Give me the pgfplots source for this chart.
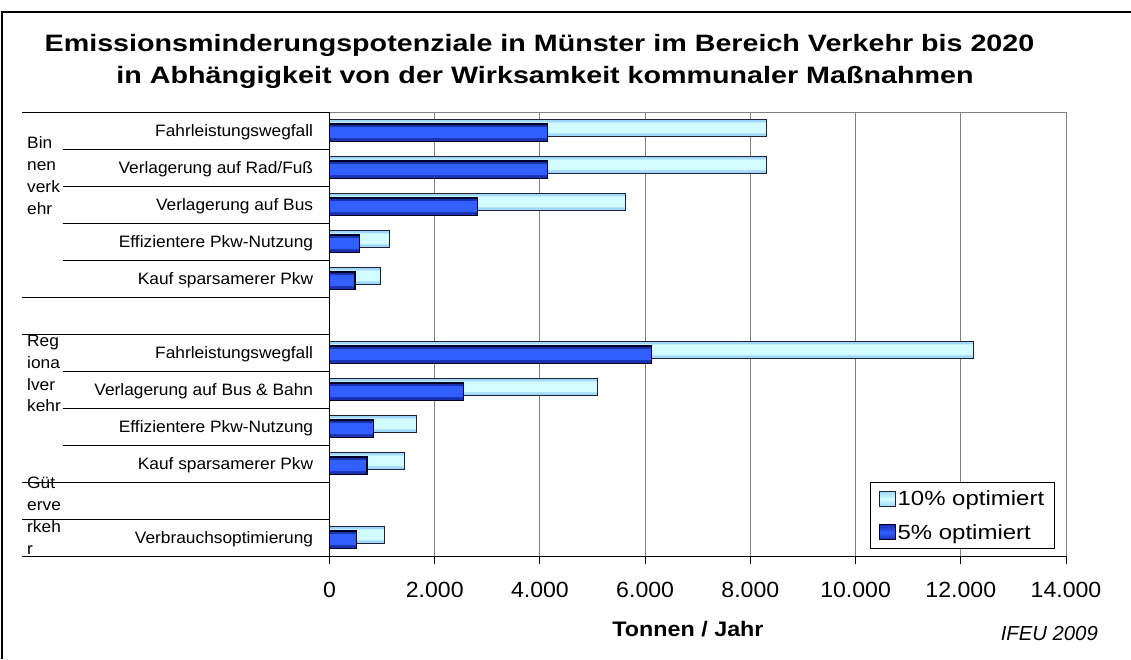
\documentclass[border=0pt]{standalone}
\usepackage{fontspec}
\setmainfont{Liberation Sans}
\newfontfamily\fA[FakeStretch=1.21]{Liberation Sans}
\newfontfamily\fL[FakeStretch=1.17]{Liberation Sans}
\newfontfamily\fB[FakeStretch=1.05]{Liberation Sans}
\newfontfamily\fC[FakeStretch=1.11]{Liberation Sans}
\usepackage{pgfplots}
\usepackage{pgfplotstable}
\pgfplotsset{compat=1.18}
\definecolor{lightmid}{RGB}{210,252,255}
\definecolor{lightedge}{RGB}{160,215,250}
\definecolor{darkmid}{RGB}{50,95,255}
\definecolor{darkedge}{RGB}{25,50,175}
\definecolor{bordA}{RGB}{30,35,50}
\definecolor{bordB}{RGB}{0,0,40}
\definecolor{gridc}{RGB}{128,128,128}
\pgfplotstableread{
y light dark
12 8300 4150
11 8300 4150
10 5620 2810
9 1140 570
8 970 485
6 12240 6120
5 5090 2545
4 1660 830
3 1425 712
1 1037 518
}\data
\begin{document}
\begin{tikzpicture}
\path[use as bounding box] (0pt,0pt) rectangle (1131pt,-659pt);
\draw[line width=2.5pt] (1.8pt,-659pt) -- (1.8pt,-12pt) -- (1131pt,-12pt);
% title
\node[font=\fA\bfseries\fontsize{23.7}{28}\selectfont, anchor=base, inner sep=0pt] at (539.5pt,-51pt) {Emissionsminderungspotenziale in Münster im Bereich Verkehr bis 2020};
\node[font=\fA\bfseries\fontsize{23.7}{28}\selectfont, anchor=base, inner sep=0pt] at (545pt,-83.5pt) {in Abhängigkeit von der Wirksamkeit kommunaler Maßnahmen};

\begin{axis}[
  at={(329.5pt,-556pt)}, anchor=south west,
  scale only axis, width=736.5pt, height=444pt,
  xmin=0, xmax=14000, ymin=0.5, ymax=12.5,
  xtick={0,2000,...,14000}, ytick={1,...,12},
  yticklabels={Verbrauchsoptimierung,{},Kauf sparsamerer Pkw,Effizientere Pkw-Nutzung,Verlagerung auf Bus \& Bahn,Fahrleistungswegfall,{},Kauf sparsamerer Pkw,Effizientere Pkw-Nutzung,Verlagerung auf Bus,Verlagerung auf Rad/Fuß,Fahrleistungswegfall},
  major tick length=0pt,
  xmajorgrids, grid style={gridc, line width=1pt},
  axis line style={gridc, line width=1pt},
  scaled x ticks=false,
  xticklabel style={font=\fB\fontsize{22}{26}\selectfont, anchor=base, inner sep=0pt, yshift=-41.3pt},
  yticklabel style={font=\fB\fontsize{16.5}{20}\selectfont, anchor=base east, inner sep=0pt, xshift=-16.2pt, yshift=-5.9pt},
  /pgf/number format/1000 sep={.},
  /pgf/number format/fixed,
  /pgf/number format/assume math mode=true,
  legend style={at={(0.9847,0.166)}, anchor=north east, draw=black, line width=1pt, fill=white,
    font=\fL\fontsize{20.5}{24}\selectfont, inner xsep=8pt, inner ysep=6pt, row sep=13pt},
  legend cell align=left,
]
% 10% series: base, inner highlight, outline
\addplot[xbar, bar width=16.6pt, bar shift=2.6pt, draw=none, fill=lightedge, forget plot]
  table[x=light, y=y] {\data};
\addplot[xbar, bar width=11pt, bar shift=2.6pt, draw=none, fill=lightmid, forget plot]
  table[x=light, y=y] {\data};
\addplot[xbar, bar width=16.6pt, bar shift=2.6pt, draw=bordA, line width=1.1pt, fill=none, forget plot]
  table[x=light, y=y] {\data};
% 5% series
\addplot[xbar, bar width=17.4pt, bar shift=-2.2pt, draw=none, fill=darkedge, forget plot]
  table[x=dark, y=y] {\data};
\addplot[xbar, bar width=11pt, bar shift=-2.2pt, draw=none, fill=darkmid, forget plot]
  table[x=dark, y=y] {\data};
\addplot[xbar, bar width=17.4pt, bar shift=-2.2pt, draw=bordB, line width=1.1pt, fill=none, forget plot]
  table[x=dark, y=y] {\data};
\addlegendimage{legend image code/.code={\draw[draw=bordA, line width=1pt, top color=lightedge, bottom color=lightedge, middle color=lightmid] (0pt,-7.5pt) rectangle (16pt,7.5pt);}}
\addlegendentry{10\% optimiert}
\addlegendimage{legend image code/.code={\draw[draw=bordB, line width=1pt, top color=darkedge, bottom color=darkedge, middle color=darkmid] (0pt,-7.5pt) rectangle (16pt,7.5pt);}}
\addlegendentry{5\% optimiert}
\end{axis}

% axis lines and ticks
\draw[line width=1pt] (329.5pt,-112pt) -- (329.5pt,-556pt) -- (1066pt,-556pt);
\foreach \k in {0,...,7} \draw[line width=1pt] (329.5pt+\k*105.2143pt,-556pt) -- ++(0pt,-8pt);
\foreach \k in {0,...,12} \draw[line width=1pt] (321.5pt,-112pt-\k*37pt) -- (329.5pt,-112pt-\k*37pt);
% label column lines
\foreach \y in {112,297,334,482,519,556} \draw[line width=1pt] (22pt,-\y pt) -- (329.5pt,-\y pt);
\foreach \y in {149,186,223,260,371,408,445} \draw[line width=1pt] (63pt,-\y pt) -- (329.5pt,-\y pt);
% group labels
\begin{scope}[every node/.style={font=\fB\fontsize{16.5}{20}\selectfont, anchor=base west, inner sep=0pt}]
\node at (27pt,-148.3pt) {Bin};
\node at (27pt,-170.3pt) {nen};
\node at (27pt,-192.3pt) {verk};
\node at (27pt,-214.3pt) {ehr};
\node at (27pt,-346.6pt) {Reg};
\node at (27pt,-368.3pt) {iona};
\node at (27pt,-390pt) {lver};
\node at (27pt,-411.7pt) {kehr};
\node at (27pt,-488.3pt) {Güt};
\node at (27pt,-510.3pt) {erve};
\node at (27pt,-532.3pt) {rkeh};
\node at (27pt,-554.3pt) {r};
\end{scope}
% axis title and source
\node[font=\fC\bfseries\fontsize{21}{25}\selectfont, anchor=base, inner sep=0pt] at (688pt,-636pt) {Tonnen / Jahr};
\node[font=\itshape\fontsize{20.3}{24}\selectfont, anchor=base east, inner sep=0pt] at (1098pt,-640pt) {IFEU 2009};
\end{tikzpicture}
\end{document}
